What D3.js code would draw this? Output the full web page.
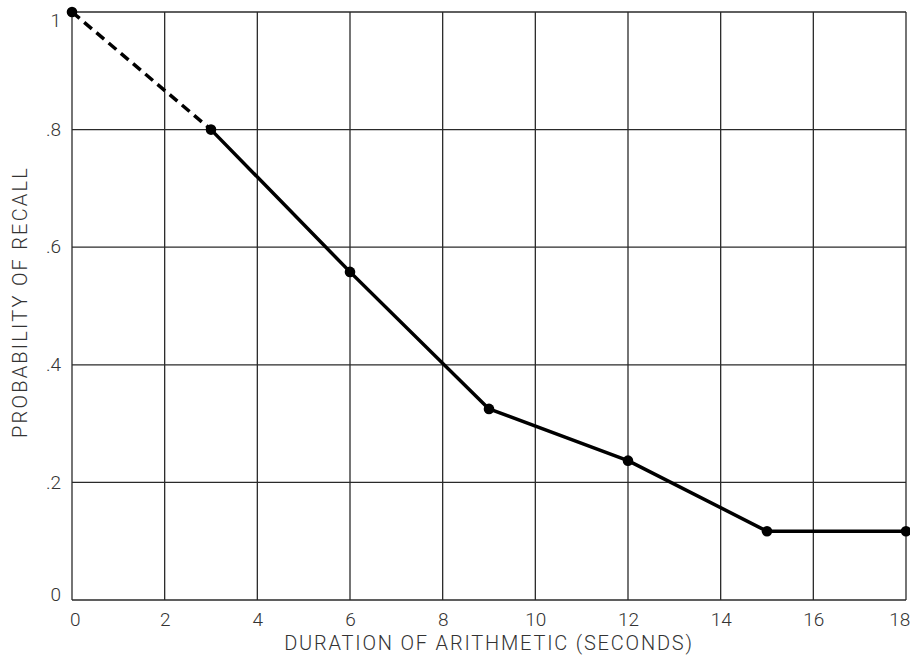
<!DOCTYPE html>
<html>
<head>
<meta charset="utf-8">
<script src="https://cdn.jsdelivr.net/npm/d3@7"></script>
<style>
html,body{margin:0;padding:0;background:#fff;}
text{font-family:Roboto,"Liberation Sans",sans-serif;font-weight:300;fill:#333;}
</style>
</head>
<body>
<svg id="chart" width="910" height="659"></svg>
<script>
// Data
const durations = [0, 3, 6, 9, 12, 15, 18];
const recall = [1.0, 0.80, 0.558, 0.325, 0.237, 0.117, 0.117];
const xTicks = [0, 2, 4, 6, 8, 10, 12, 14, 16, 18];
const yTicks = [0, 0.2, 0.4, 0.6, 0.8, 1.0];
const yTickLabels = ["0", ".2", ".4", ".6", ".8", "1"];
const xTitle = "DURATION OF ARITHMETIC (SECONDS)";
const yTitle = "PROBABILITY OF RECALL";

const svg = d3.select("#chart");
const m = {left: 72, right: 4, top: 12, bottom: 59};
const W = 910, H = 659;
const x = d3.scaleLinear().domain([0, 18]).range([m.left, W - m.right]);
const y = d3.scaleLinear().domain([0, 1]).range([H - m.bottom, m.top]);

// grid
const g = svg.append("g");
g.selectAll("line.v").data(xTicks).enter().append("line")
  .attr("x1", d => x(d)).attr("x2", d => x(d))
  .attr("y1", y(0)).attr("y2", y(1))
  .attr("stroke", "#2a2a2a").attr("stroke-width", 1.3);
g.selectAll("line.h").data(yTicks).enter().append("line")
  .attr("x1", x(0)).attr("x2", x(18))
  .attr("y1", d => y(d)).attr("y2", d => y(d))
  .attr("stroke", "#2a2a2a").attr("stroke-width", 1.3);

// axes labels via d3 axes
const xAxis = d3.axisBottom(x).tickValues(xTicks).tickSize(0).tickPadding(13);
svg.append("g").attr("transform", `translate(0,${y(0)})`).call(xAxis)
  .call(s => s.select(".domain").remove())
  .selectAll("text").style("font-size", "19px").attr("font-family", null).attr("fill", null)
  .attr("dx", d => d === 18 ? "-0.35em" : (d === 0 ? "0.15em" : 0));

const yAxis = d3.axisLeft(y).tickValues(yTicks).tickFormat((d, i) => yTickLabels[i]).tickSize(0).tickPadding(11);
svg.append("g").attr("transform", `translate(${x(0)},0)`).call(yAxis)
  .call(s => s.select(".domain").remove())
  .selectAll("text").style("font-size", "19px").attr("font-family", null).attr("fill", null)
  .attr("dy", d => d === 1 ? "0.75em" : (d === 0 ? "0.05em" : "0.3em"));

// titles
svg.append("text").attr("x", (x(0) + x(18)) / 2).attr("y", 650)
  .attr("text-anchor", "middle").style("font-size", "20px").style("letter-spacing", "1.8px")
  .text(xTitle);
svg.append("text").attr("transform", `translate(27,${(y(0)+y(1))/2 - 4}) rotate(-90)`)
  .attr("text-anchor", "middle").style("font-size", "20px").style("letter-spacing", "2.2px")
  .text(yTitle);

// line
const pts = durations.map((d, i) => [d, recall[i]]);
const line = d3.line().x(d => x(d[0])).y(d => y(d[1]));
svg.append("path").datum(pts.slice(0, 2)).attr("d", line)
  .attr("fill", "none").attr("stroke", "#000").attr("stroke-width", 3.5)
  .attr("stroke-dasharray", "10,6");
svg.append("path").datum(pts.slice(1)).attr("d", line)
  .attr("fill", "none").attr("stroke", "#000").attr("stroke-width", 3.5)
  .attr("stroke-linejoin", "round");
svg.selectAll("circle").data(pts).enter().append("circle")
  .attr("cx", d => x(d[0])).attr("cy", d => y(d[1])).attr("r", 5.3).attr("fill", "#000");
</script>
</body>
</html>
